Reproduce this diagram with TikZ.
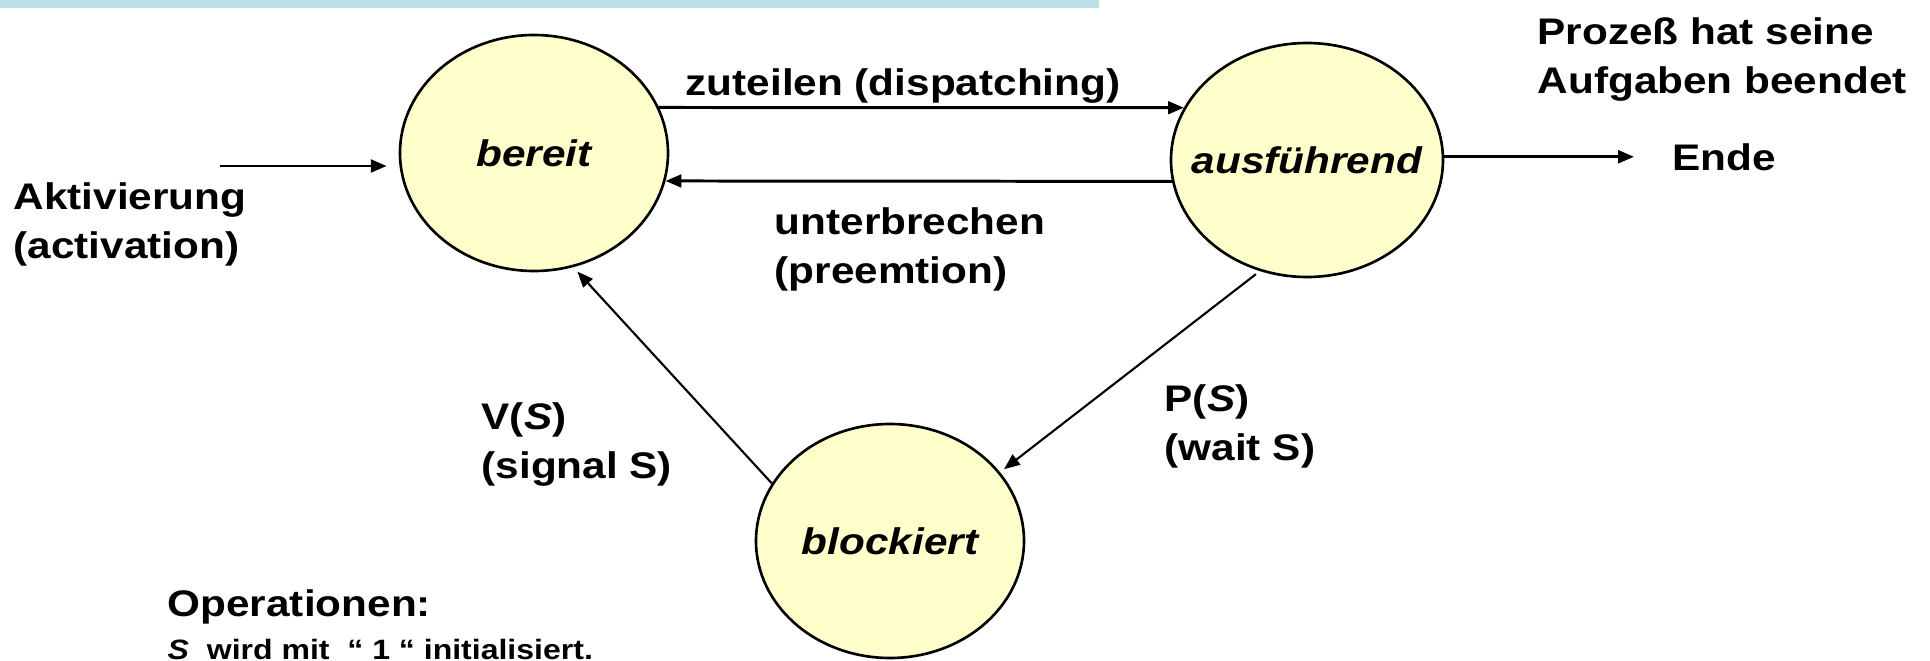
\documentclass[tikz,border=0pt]{standalone}
\usepackage{fontspec}
\setmainfont{Liberation Sans}[FakeStretch=1.143]
\usepackage{tikz}
\usetikzlibrary{shapes,calc}
\usetikzlibrary{arrows.meta}
\usetikzlibrary{positioning}
\definecolor{barblue}{RGB}{185,224,228}
\definecolor{stateyellow}{RGB}{255,255,204}

\begin{document}
\begin{tikzpicture}[
		state/.style={draw,ellipse,fill=stateyellow,line width=0.75pt,minimum width=2.68cm,minimum height=2.36cm,inner sep=0pt},
		statetxt/.style={font=\fontsize{10.53pt}{13.94pt}\selectfont\bfseries\itshape},
		txt/.style={inner sep=0pt,anchor=base west,align=left,font=\fontsize{10.53pt}{13.94pt}\selectfont\bfseries},
		smalltxt/.style={inner sep=0pt,anchor=base west,font=\fontsize{7.97pt}{9.6pt}\selectfont\bfseries},
		tr/.style={line width=0.85pt,-{Triangle[length=4.5pt,width=3.6pt]}},
		trd/.style={line width=0.6pt,-{Triangle[length=4.5pt,width=3.6pt]}}
	]
	\useasboundingbox (0,0) rectangle (19.3,6.6);
	\fill[barblue] (0,6.52) rectangle (10.99,6.6);

	\node[state] (bereit) at (5.34,5.07) {};
	\node[state,minimum width=2.72cm,minimum height=2.34cm] (ausf) at (13.07,5.00) {};
	\node[state,minimum height=2.34cm] (block) at (8.90,1.19) {};
	\node[statetxt] (bereittxt) at (bereit) {bereit};
	\node[statetxt] (ausftxt) at (ausf) {ausführend};
	\node[statetxt] (blocktxt) at (block) {blockiert};

	\node[txt] (akt) at (0.13,4.02) {Aktivierung\\(activation)};
	\node[txt] (zut) at (6.85,5.65) {zuteilen (dispatching)};
	\node[txt] (unt) at (7.74,3.77) {unterbrechen\\(preemtion)};
	\node[txt] (proz) at (15.37,5.67) {Prozeß hat seine\\Aufgaben beendet};
	\node[txt] (ende) at (16.72,4.90) {Ende};
	\node[txt] (vs) at (4.81,1.82) {V(\textit{S})\\(signal S)};
	\node[txt] (ps) at (11.64,2.00) {P(\textit{S})\\(wait S)};
	\node[txt] (ops) at (1.67,0.44) {Operationen:};
	\node[smalltxt] (init) at (1.67,0.01) {\textit{S}\ \ wird mit\ \ “ 1 “ initialisiert.};

	\coordinate (aktin) at (2.20,4.94);
	\draw[tr,shorten >=0.12cm] (aktin) -- (aktin -| bereit.west);
	\draw[tr] (bereit.20) -- (ausf.157);
	\draw[tr] (ausf.189) -- (bereit.348);
	\draw[trd,shorten >=0.06cm] (block.154) -- (bereit.289);
	\draw[trd,shorten <=0.05cm,shorten >=0.05cm] (ausf.247) -- (block.32);
	\draw[tr,shorten >=0.38cm] (ausf.east |- ende.west) -- (ende.west);
\end{tikzpicture}
\end{document}
